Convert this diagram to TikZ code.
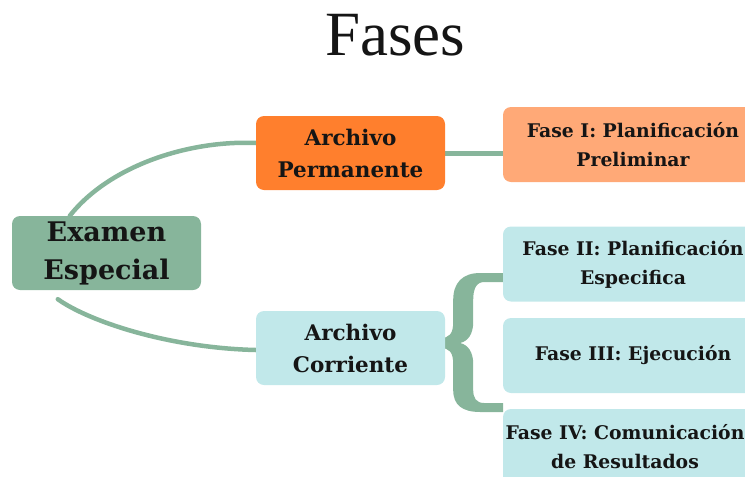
\documentclass[tikz,border=0pt]{standalone}
\usepackage{fontspec}
\setmainfont{DejaVu Serif}
\newfontfamily\titlefont{Liberation Serif}
\usetikzlibrary{calc,backgrounds}
\definecolor{sage}{HTML}{87B59B}
\definecolor{orangeA}{HTML}{FF7F2D}
\definecolor{orangeB}{HTML}{FFA977}
\definecolor{cyanL}{HTML}{C1E8EA}
\definecolor{ink}{HTML}{151515}
\begin{document}
\begin{tikzpicture}[x=1pt,y=-1pt,
  box/.style={rounded corners=8pt, inner sep=0pt, align=center, text=ink},
  mid/.style={box, minimum width=189pt, minimum height=74pt, font=\bfseries\fontsize{21.5}{32}\selectfont},
  fase/.style={box, fill=cyanL, minimum width=260pt, minimum height=75pt, font=\bfseries\fontsize{18.8}{29}\selectfont},
  conn/.style={draw=sage, line width=4.5pt, line cap=round}
]
\useasboundingbox (0,0) rectangle (745,477);
\node[anchor=base, font=\titlefont\fontsize{63}{70}\selectfont, text=ink] (title) at (395,55) {Fases};

\node[box, fill=sage, minimum width=189pt, minimum height=74pt, font=\bfseries\fontsize{27}{38}\selectfont] (ex) at (106.5,253) {Examen\\Especial};
\node[mid, fill=orangeA] (ap) at (350.5,153) {Archivo\\Permanente};
\node[mid, fill=cyanL] (ac) at (350.5,348) {Archivo\\Corriente};

\node[fase, fill=orangeB] (f1) at (633,144.5) {Fase I: Planificación\\Preliminar};
\node[fase] (f2) at (633,264) {Fase II: Planificación\\Especifica};
\node[fase] (f3) at (633,355.5) {Fase III: Ejecución};
\node[fase] (f4) at (633,446.5) {Fase IV: Comunicación\hspace*{16pt}\\de Resultados\hspace*{16pt}};

\begin{scope}[on background layer]
\draw[conn] ($(ex.north west)+(58,0)$) .. controls (110,165) and (190,140) .. ($(ap.west)+(0,-10)$);
\draw[conn] ($(ex.south west)+(46,9)$) .. controls (90,322) and (170,348) .. ($(ac.west)+(0,2)$);
\draw[conn, line width=5pt, line cap=butt] (ap.east) -- (ap.east -| f1.west);
\end{scope}

% brace joining Archivo Corriente to the phases
\begin{scope}[shift={(ac.east)}, on background layer]
\fill[sage] (58,-75) -- (35,-75) .. controls (17,-75) and (8,-65) .. (8,-48) -- (8,-26)
  .. controls (8,-14) and (4,-10) .. (-5,-10) -- (-5,0)
  .. controls (4,0) and (8,4) .. (8,16) -- (8,42)
  .. controls (8,57) and (17,64) .. (35,64) -- (58,64) -- (58,55) -- (39,55)
  .. controls (31,55) and (28,50) .. (28,42) -- (28,16)
  .. controls (28,4) and (23,-3) .. (15,-5)
  .. controls (23,-7) and (28,-14) .. (28,-26) -- (28,-48)
  .. controls (28,-59) and (31,-66) .. (39,-66) -- (58,-66) -- cycle;
\end{scope}
\end{tikzpicture}
\end{document}
